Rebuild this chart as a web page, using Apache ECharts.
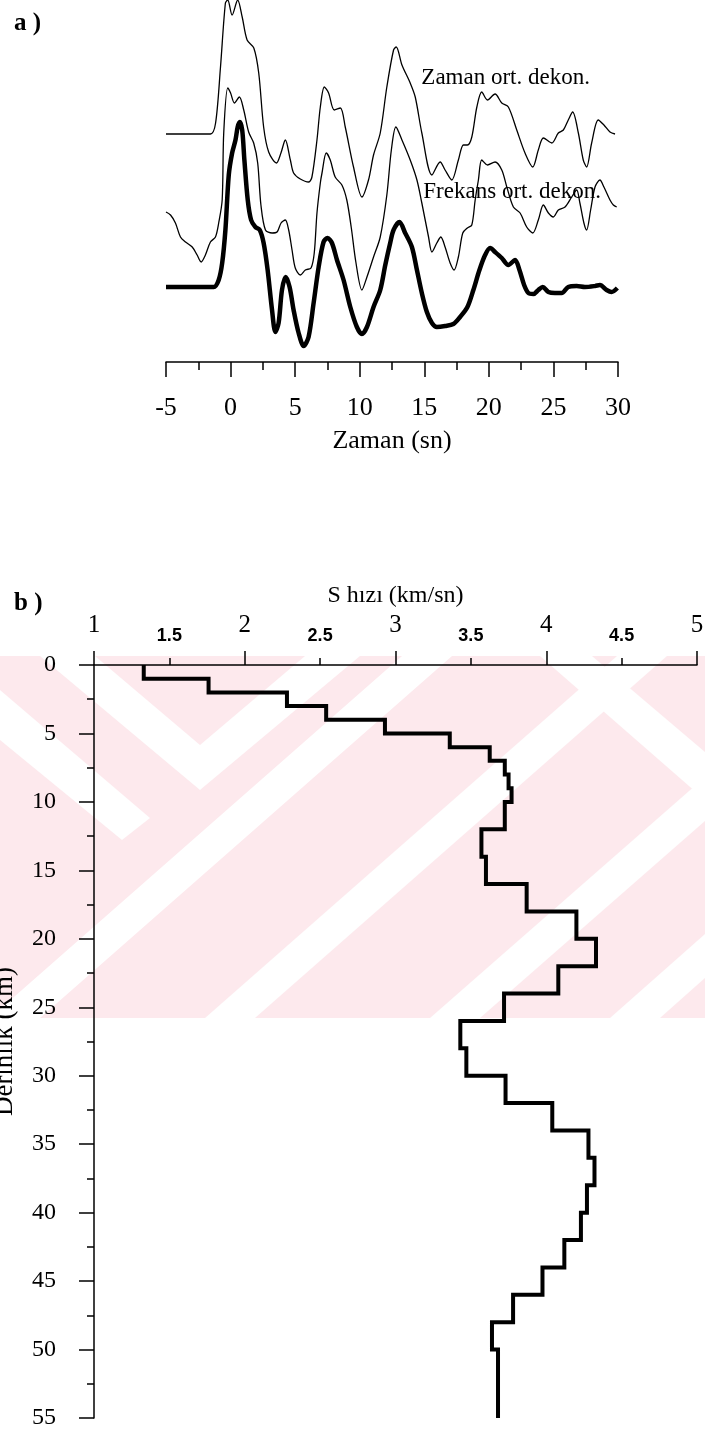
<!DOCTYPE html>
<html>
<head>
<meta charset="utf-8">
<script src="https://cdn.jsdelivr.net/npm/echarts@6/dist/echarts.min.js"></script>
<style>
  html, body { margin: 0; padding: 0; background: #ffffff; }
  #chart { width: 705px; height: 1444px; }
</style>
</head>
<body>
<div id="chart"></div>
<script>
// ---------- (a) receiver functions: [time (s), amplitude] ----------
// time-domain iterative deconvolution
const zamanTrace = [
  [-5, 0], [-1.56, 0], [-1.16, 11], [-0.78, 67], [-0.4, 131], [-0.22, 134], [0.12, 119], [0.55, 134],
  [0.9, 117], [1.28, 94], [1.8, 86], [2.18, 61], [2.56, 7], [2.95, -18], [3.55, -29], [3.9, -19],
  [4.24, -6], [4.63, -26], [4.88, -39], [5.4, -45], [6.05, -48], [6.3, -43], [6.69, -6], [6.95, 27],
  [7.26, 47], [7.59, 41], [8.03, 24], [8.5, 26], [8.88, 7], [9.52, -33], [10.17, -63], [10.68, -46],
  [11.07, -21], [11.59, 1], [12.1, 47], [12.62, 84], [12.83, 87], [13.27, 69], [13.91, 51], [14.3, 37],
  [14.81, 1], [15.59, -41], [16.23, -28], [16.61, -36], [17.13, -46], [17.64, -26], [18.03, -11],
  [18.34, -11], [18.68, -3], [19.07, 27], [19.45, 42], [19.89, 34], [20.48, 40], [21.0, 31], [21.51, 27],
  [22.16, 4], [22.8, -19], [23.4, -33], [23.83, -16], [24.22, -4], [24.87, -9], [25.38, 1], [25.77, 4],
  [26.15, 14], [26.49, 22], [26.93, 1], [27.31, -26], [27.57, -33], [27.96, -9], [28.47, 14],
  [28.91, 9], [29.38, 2], [29.77, 0]
];
// frequency-domain deconvolution
const frekansTrace = [
  [-5, 2], [-4.65, -1], [-4.27, -9], [-3.88, -23], [-3.49, -28], [-2.97, -33], [-2.59, -41], [-2.28, -48],
  [-1.95, -41], [-1.56, -28], [-1.17, -23], [-0.92, -9], [-0.65, 14], [-0.53, 81], [-0.22, 126], [0.0, 121],
  [0.3, 111], [0.68, 117], [1.02, 104], [1.4, 82], [1.79, 71], [2.1, 51], [2.35, 9], [2.7, -16],
  [3.21, -19], [3.6, -18], [3.91, -9], [4.24, -6], [4.5, -16], [4.76, -36], [5.01, -54], [5.4, -61],
  [5.79, -56], [6.23, -54], [6.48, -39], [6.69, 1], [6.95, 31], [7.08, 41], [7.41, 61], [7.72, 54],
  [8.1, 37], [8.62, 29], [9.0, 14], [9.35, -14], [9.7, -48], [10.17, -76], [10.56, -63], [11.07, -43],
  [11.59, -23], [12.1, 19], [12.45, 64], [12.8, 87], [13.27, 74], [13.91, 54], [14.43, 34], [14.81, 11],
  [15.33, -23], [15.59, -38], [15.97, -29], [16.28, -23], [16.61, -33], [17.0, -49], [17.31, -56],
  [17.64, -43], [17.98, -19], [18.34, -14], [18.68, -11], [18.94, 14], [19.19, 34], [19.45, 54],
  [19.89, 49], [20.48, 52], [21.0, 44], [21.39, 27], [21.9, 7], [22.42, 1], [22.93, -13], [23.4, -19],
  [23.83, -6], [24.22, 9], [24.61, 1], [24.99, -3], [25.38, 4], [25.9, 7], [26.41, 17], [26.8, 24],
  [27.05, 11], [27.36, -9], [27.57, -16], [27.88, 4], [28.22, 27], [28.6, 34], [28.91, 27], [29.38, 14],
  [29.64, 9], [29.9, 7]
];
// stacked receiver function (thick)
const stackTrace = [
  [-5, 0], [-1.3, 0], [-0.92, 7], [-0.65, 24], [-0.4, 57], [-0.14, 112], [0.12, 134], [0.38, 147],
  [0.55, 160], [0.71, 165], [0.9, 157], [1.07, 127], [1.33, 87], [1.59, 67], [1.92, 60], [2.26, 57],
  [2.56, 44], [2.87, 17], [3.21, -23], [3.47, -45], [3.72, -36], [3.98, -3], [4.26, 10], [4.57, 0],
  [4.88, -23], [5.27, -46], [5.66, -59], [6.04, -50], [6.43, -16], [6.82, 20], [7.2, 45], [7.51, 49],
  [7.85, 44], [8.24, 27], [8.75, 7], [9.27, -20], [9.78, -40], [10.17, -47], [10.56, -40], [11.07, -20],
  [11.59, -3], [11.98, 22], [12.36, 44], [12.62, 57], [13.08, 65], [13.52, 54], [14.04, 40], [14.43, 17],
  [14.81, -6], [15.2, -25], [15.59, -36], [15.97, -40], [16.61, -39], [17.25, -37], [17.77, -30],
  [18.34, -20], [18.8, -3], [19.27, 17], [19.71, 32], [20.1, 39], [20.48, 35], [21.0, 29], [21.51, 22],
  [22.03, 27], [22.37, 17], [22.73, 2], [23.06, -6], [23.45, -7], [23.83, -3], [24.17, 0], [24.61, -5],
  [25.12, -6], [25.64, -6], [26.15, 0], [26.8, 1], [27.44, 0], [28.22, 1], [28.6, 2], [29.12, -3],
  [29.5, -5], [29.95, -1]
];
// vertical offsets of the three traces (amplitude units)
const zamanOffset = 153;
const frekansOffset = 73;
const stackOffset = 0;
const traceLabels = ['Zaman ort. dekon.', 'Frekans ort. dekon.'];
const traceLabelAt = [[21.3, 209], [21.8, 95]];   // [time, amplitude] anchor of each label

// ---------- (b) S-wave velocity model ----------
const layerTop = [0, 1, 2, 3, 4, 5, 6, 7, 8, 9, 10, 12, 14, 16, 18, 20, 22, 24, 26, 28, 30,
                  32, 34, 36, 38, 40, 42, 44, 46, 48, 50];
const layerVs  = [1.33, 1.76, 2.28, 2.54, 2.93, 3.36, 3.625, 3.725, 3.75, 3.77, 3.725, 3.57, 3.60,
                  3.87, 4.20, 4.33, 4.08, 3.72, 3.43, 3.47, 3.73, 4.04, 4.28, 4.32, 4.27, 4.23,
                  4.12, 3.975, 3.78, 3.64, 3.68];
const modelBottom = 55;

const SERIF = '"Liberation Serif", "Times New Roman", Times, serif';
const NARROW = '"Liberation Sans Narrow", "Liberation Sans", Arial, sans-serif';

// staircase polyline: each layer contributes its top and bottom corner
const profile = [];
layerVs.forEach((v, i) => {
  const bottom = i + 1 < layerTop.length ? layerTop[i + 1] : modelBottom;
  profile.push([v, layerTop[i]]);
  profile.push([v, bottom]);
});

const shift = (trace, off) => trace.map(([t, a]) => [t, a + off]);

const traceLine = (data, width, extra) => Object.assign({
  type: 'line', xAxisIndex: 0, yAxisIndex: 0, data: data,
  showSymbol: false, symbol: 'none', smooth: 0.3, clip: false,
  lineStyle: { color: '#000', width: width }, z: 3
}, extra || {});

const textLabel = (text, coord) => ({
  coord: coord, symbol: 'rect', symbolSize: 1, itemStyle: { color: 'rgba(0,0,0,0)' },
  label: { show: true, position: 'inside', formatter: text, color: '#000',
           fontFamily: SERIF, fontSize: 23 }
});

// pale watermark band behind the upper part of the velocity profile
const band = { top: 656, bottom: 1018 };
const whiteStripes = [
  [[40, 656], [95, 656], [200, 745], [305, 656], [360, 656], [200, 790]],
  [[0, 690], [150, 818], [122, 840], [0, 740]],
  [[-10, 1018], [40, 1018], [452, 656], [402, 656]],
  [[205, 1018], [255, 1018], [667, 656], [617, 656]],
  [[430, 1018], [480, 1018], [705, 821], [705, 777]],
  [[540, 656], [592, 656], [705, 752], [705, 800]],
  [[610, 1018], [660, 1018], [705, 978], [705, 934]]
];
const graphics = [{
  type: 'rect', silent: true, z: -10,
  shape: { x: 0, y: band.top, width: 705, height: band.bottom - band.top },
  style: { fill: '#fde9ed' }
}].concat(whiteStripes.map(pts => ({
  type: 'polygon', silent: true, z: -9,
  shape: { points: pts.map(p => [p[0], Math.min(Math.max(p[1], band.top), band.bottom)]) },
  style: { fill: '#ffffff' }
})));

const axisBlack = { color: '#000', width: 1.5 };

const option = {
  animation: false,
  backgroundColor: '#ffffff',
  textStyle: { fontFamily: SERIF, color: '#000' },
  graphic: graphics,
  title: [
    { text: 'a )', left: 9, top: 6,
      textStyle: { fontFamily: SERIF, fontWeight: 'bold', fontSize: 25, color: '#000' } },
    { text: 'b )', left: 9, top: 586,
      textStyle: { fontFamily: SERIF, fontWeight: 'bold', fontSize: 25, color: '#000' } }
  ],
  grid: [
    { left: 166, right: 87, top: 0, height: 362, outerBoundsMode: 'none', containLabel: false },
    { left: 94, right: 8, top: 665, height: 753, outerBoundsMode: 'none', containLabel: false }
  ],
  xAxis: [
    {
      gridIndex: 0, type: 'value', min: -5, max: 30, interval: 5, position: 'bottom',
      axisLine: { onZero: false, lineStyle: axisBlack },
      axisTick: { length: 15, lineStyle: axisBlack },
      minorTick: { show: true, splitNumber: 2, length: 8, lineStyle: axisBlack },
      splitLine: { show: false },
      axisLabel: { color: '#000', fontFamily: SERIF, fontSize: 26, margin: 33 },
      name: 'Zaman (sn)', nameLocation: 'middle', nameGap: 66,
      nameTextStyle: { color: '#000', fontFamily: SERIF, fontSize: 26 }
    },
    {
      gridIndex: 1, type: 'value', min: 1, max: 5, interval: 1, position: 'top',
      axisLine: { onZero: false, lineStyle: axisBlack },
      axisTick: { length: 14, lineStyle: axisBlack },
      minorTick: { show: true, splitNumber: 2, length: 7, lineStyle: axisBlack },
      splitLine: { show: false },
      axisLabel: { color: '#000', fontFamily: SERIF, fontSize: 25, margin: 27 },
      name: 'S hızı (km/sn)', nameLocation: 'middle', nameGap: 48,
      nameTextStyle: { color: '#000', fontFamily: SERIF, fontSize: 24 }
    },
    {
      gridIndex: 1, type: 'value', min: 1, max: 5, interval: 0.5, position: 'top',
      axisLine: { show: false, onZero: false }, axisTick: { show: false },
      splitLine: { show: false },
      axisLabel: {
        color: '#000', fontFamily: NARROW, fontWeight: 'bold', fontSize: 18, margin: 20,
        formatter: v => (Math.abs((v % 1) - 0.5) < 1e-6 ? String(v) : '')
      }
    }
  ],
  yAxis: [
    { gridIndex: 0, type: 'value', min: -75, max: 287, show: false },
    {
      gridIndex: 1, type: 'value', inverse: true, min: 0, max: 55, interval: 5,
      axisLine: { onZero: false, lineStyle: axisBlack },
      axisTick: { length: 15, lineStyle: axisBlack },
      minorTick: { show: true, splitNumber: 2, length: 7, lineStyle: axisBlack },
      splitLine: { show: false },
      axisLabel: { color: '#000', fontFamily: SERIF, fontSize: 24, margin: 38 },
      name: 'Derinlik (km)', nameLocation: 'middle', nameGap: 76, nameRotate: 90,
      nameTextStyle: { color: '#000', fontFamily: SERIF, fontSize: 27 }
    }
  ],
  series: [
    traceLine(shift(zamanTrace, zamanOffset), 1.3, {
      name: traceLabels[0],
      markPoint: { silent: true, data: [textLabel(traceLabels[0], traceLabelAt[0])] }
    }),
    traceLine(shift(frekansTrace, frekansOffset), 1.3, {
      name: traceLabels[1],
      markPoint: { silent: true, data: [textLabel(traceLabels[1], traceLabelAt[1])] }
    }),
    traceLine(shift(stackTrace, stackOffset), 4.5),
    {
      type: 'line', xAxisIndex: 1, yAxisIndex: 1, data: profile,
      showSymbol: false, symbol: 'none', clip: false,
      lineStyle: { color: '#000', width: 4, join: 'miter' }, z: 3
    }
  ]
};

const chart = echarts.init(document.getElementById('chart'), null, { renderer: 'canvas' });
chart.setOption(option);
</script>
</body>
</html>
